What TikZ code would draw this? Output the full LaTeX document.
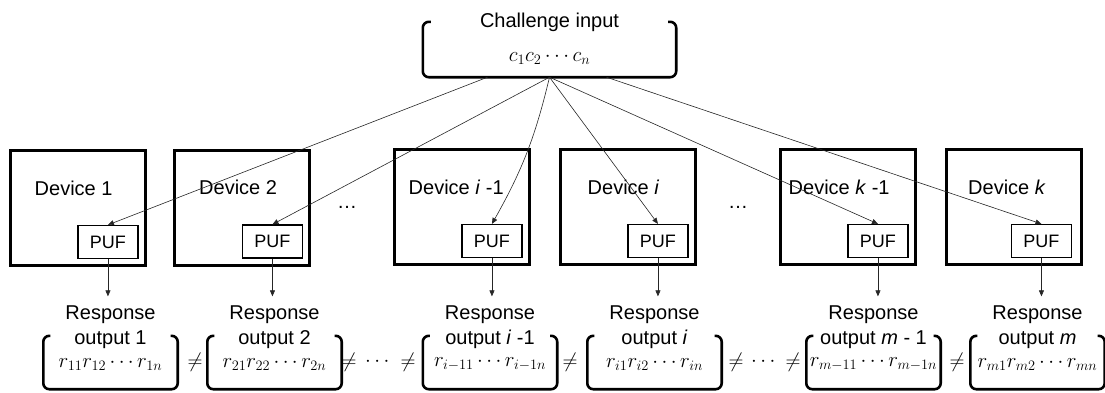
\documentclass[tikz,border=0pt]{standalone}
\usepackage{amsmath}
\usepackage{fontspec}
\setmainfont{Liberation Sans}
\usetikzlibrary{arrows.meta}

\begin{document}
\begin{tikzpicture}[x=1pt,y=-1pt,
    font=\fontsize{20}{25}\selectfont,
    device/.style={draw,line width=3pt,minimum width=135pt,minimum height=115pt,inner sep=0pt},
    puf/.style={draw,line width=1.1pt,minimum width=60pt,minimum height=33pt,inner sep=0pt,font=\fontsize{18}{20}\selectfont},
    devlabel/.style={anchor=west,inner sep=0pt},
    resp/.style={minimum width=134pt,minimum height=53pt,inner sep=0pt},
    resplabel/.style={align=center,inner sep=0pt},
    bits/.style={inner sep=0pt},
    bracket/.style={line width=2.6pt,rounded corners=6pt},
    feed/.style={line width=0.6pt,draw=black!85,-{Triangle[length=6pt,width=5pt]}}]

    \useasboundingbox (0,0) rectangle (1105,392);

    \node[resp,minimum width=253pt,minimum height=55pt] (chal) at (549.5,49.5) {};
    \node (chaltxt) at (549.5,22) {Challenge input};
    \node[bits] (chalmath) at (549.5,58) {$c_1c_2\cdots c_n$};
    \draw[bracket] ([xshift=8pt]chal.north west) -- (chal.north west) -- (chal.south west) -- (chal.south east) -- (chal.north east) -- ([xshift=-8pt]chal.north east);

    \node[device] (D1) at (77.5,208) {};
    \node[device] (D2) at (242,207.5) {};
    \node[device] (D3) at (461.5,207) {};
    \node[device] (D4) at (627.5,207) {};
    \node[device] (D5) at (847.5,207) {};
    \node[device] (D6) at (1014,207) {};

    \node[devlabel] (L1) at ([xshift=26pt,yshift=20pt]D1.west) {Device 1};
    \node[devlabel] (L2) at ([xshift=26pt,yshift=20pt]D2.west) {Device 2};
    \node[devlabel] (L3) at ([xshift=16pt,yshift=20pt]D3.west) {Device \textit{i} -1};
    \node[devlabel] (L4) at ([xshift=29pt,yshift=20pt]D4.west) {Device \textit{i}};
    \node[devlabel] (L5) at ([xshift=10pt,yshift=20pt]D5.west) {Device \textit{k} -1};
    \node[devlabel] (L6) at ([xshift=23pt,yshift=20pt]D6.west) {Device \textit{k}};

    \node[puf,anchor=south east] (P1) at ([xshift=-8pt,yshift=8pt]D1.south east) {PUF};
    \node[puf,anchor=south east] (P2) at ([xshift=-8pt,yshift=8pt]D2.south east) {PUF};
    \node[puf,anchor=south east] (P3) at ([xshift=-8pt,yshift=8pt]D3.south east) {PUF};
    \node[puf,anchor=south east] (P4) at ([xshift=-8pt,yshift=8pt]D4.south east) {PUF};
    \node[puf,anchor=south east] (P5) at ([xshift=-8pt,yshift=8pt]D5.south east) {PUF};
    \node[puf,anchor=south east] (P6) at ([xshift=-11pt,yshift=8pt]D6.south east) {PUF};

    \node (E1) at (347,207) {\dots};
    \node (E2) at (738,207) {\dots};

    \draw[feed] ([xshift=-62pt]chal.south) -- (P1.north);
    \draw[feed] (chal.south) -- (P2.north);
    \draw[feed] (chal.south) to[bend left=8] (P3.north);
    \draw[feed] (chal.south) -- (P4.north);
    \draw[feed] (chal.south) -- (P5.north);
    \draw[feed] ([xshift=57pt]chal.south) -- (P6.north);

    \node[resplabel] (T1) at (110.5,327) {Response\\output 1};
    \node[resplabel] (T2) at (274.5,327) {Response\\output 2};
    \node[resplabel] (T3) at (490,327) {Response\\output \textit{i} -1};
    \node[resplabel] (T4) at (654.5,327) {Response\\output \textit{i}};
    \node[resplabel] (T5) at (873.5,327) {Response\\output \textit{m} - 1};
    \node[resplabel] (T6) at (1037.5,327) {Response\\output \textit{m}};

    \draw[feed] (P1.south) -- ([yshift=9pt]P1.south |- T1.north);
    \draw[feed] (P2.south) -- ([yshift=9pt]P2.south |- T2.north);
    \draw[feed] (P3.south) -- ([yshift=9pt]P3.south |- T3.north);
    \draw[feed] (P4.south) -- ([yshift=9pt]P4.south |- T4.north);
    \draw[feed] (P5.south) -- ([yshift=9pt]P5.south |- T5.north);
    \draw[feed] (P6.south) -- ([yshift=9pt]P6.south |- T6.north);

    \node[resp] (R1) at (110.5,362.5) {};
    \node[resp] (R2) at (274.5,362.5) {};
    \node[resp] (R3) at (490,362.5) {};
    \node[resp] (R4) at (654.5,362.5) {};
    \node[resp] (R5) at (873.5,362.5) {};
    \node[resp] (R6) at (1037.5,362.5) {};

    \node[bits] (B1) at ([yshift=-1.5pt]R1) {$r_{11}r_{12}\cdots r_{1n}$};
    \node[bits] (B2) at ([yshift=-1.5pt]R2) {$r_{21}r_{22}\cdots r_{2n}$};
    \node[bits] (B3) at ([yshift=-1.5pt]R3) {$r_{i-11}\cdots r_{i-1n}$};
    \node[bits] (B4) at ([yshift=-1.5pt]R4) {$r_{i1}r_{i2}\cdots r_{in}$};
    \node[bits] (B5) at ([yshift=-1.5pt]R5) {$r_{m-11}\cdots r_{m-1n}$};
    \node[bits] (B6) at ([yshift=-1.5pt]R6) {$r_{m1}r_{m2}\cdots r_{mn}$};

    \draw[bracket] ([xshift=7pt]R1.north west) -- (R1.north west) -- (R1.south west) -- (R1.south east) -- (R1.north east) -- ([xshift=-7pt]R1.north east);
    \draw[bracket] ([xshift=7pt]R2.north west) -- (R2.north west) -- (R2.south west) -- (R2.south east) -- (R2.north east) -- ([xshift=-7pt]R2.north east);
    \draw[bracket] ([xshift=7pt]R3.north west) -- (R3.north west) -- (R3.south west) -- (R3.south east) -- (R3.north east) -- ([xshift=-7pt]R3.north east);
    \draw[bracket] ([xshift=7pt]R4.north west) -- (R4.north west) -- (R4.south west) -- (R4.south east) -- (R4.north east) -- ([xshift=-7pt]R4.north east);
    \draw[bracket] ([xshift=7pt]R5.north west) -- (R5.north west) -- (R5.south west) -- (R5.south east) -- (R5.north east) -- ([xshift=-7pt]R5.north east);
    \draw[bracket] ([xshift=7pt]R6.north west) -- (R6.north west) -- (R6.south west) -- (R6.south east) -- (R6.north east) -- ([xshift=-7pt]R6.north east);

    \node (N1) at (195,362) {$\neq$};
    \node (N2) at (349,362) {$\neq$};
    \node (C1) at (379,362) {$\cdots$};
    \node (N3) at (408,362) {$\neq$};
    \node (N4) at (570,362) {$\neq$};
    \node (N5) at (736,362) {$\neq$};
    \node (C2) at (765,362) {$\cdots$};
    \node (N6) at (793,362) {$\neq$};
    \node (N7) at (957,362) {$\neq$};

  \end{tikzpicture}
\end{document}
